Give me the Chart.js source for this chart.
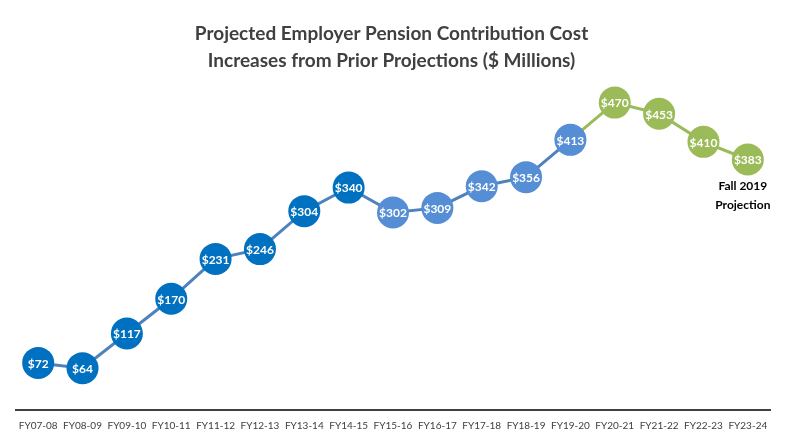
<!DOCTYPE html>
<html>
<head>
<meta charset="utf-8">
<script src="https://cdn.jsdelivr.net/npm/chart.js@4"></script>
<style>
  html, body { margin: 0; padding: 0; background: #fff; }
  #wrap { width: 805px; height: 446px; }
</style>
</head>
<body>
<div id="wrap"><canvas id="myChart"></canvas></div>
<script>
'use strict';

let years = ['FY07-08', 'FY08-09', 'FY09-10', 'FY10-11', 'FY11-12', 'FY12-13', 'FY13-14', 'FY14-15',
  'FY15-16', 'FY16-17', 'FY17-18', 'FY18-19', 'FY19-20', 'FY20-21', 'FY21-22', 'FY22-23', 'FY23-24'];
let costs = [72, 64, 117, 170, 231, 246, 304, 340, 302, 309, 342, 356, 413, 470, 453, 410, 383];
// which projection group each point belongs to: 0 = actual, 1 = near term, 2 = later projection
let groups = [0, 0, 0, 0, 0, 0, 0, 0, 1, 1, 1, 1, 1, 2, 2, 2, 2];

let groupColors = ['#0070c0', '#558ed5', '#9bbb59'];
let lineBlue = '#4f81bd';
let lineGreen = '#9bbb59';

let pointColors = [];
for (let i = 0; i < groups.length; i++) {
  pointColors.push(groupColors[groups[i]]);
}

let fontName = 'Lato, "Open Sans", sans-serif';

// draws the $ value inside each circle plus the note under the last point
let valueLabels = {
  id: 'valueLabels',
  afterDatasetsDraw(chart) {
    let ctx = chart.ctx;
    let meta = chart.getDatasetMeta(0);
    ctx.save();
    ctx.textAlign = 'center';
    ctx.textBaseline = 'middle';
    ctx.fillStyle = '#ffffff';
    ctx.font = 'bold 12px ' + fontName;
    for (let i = 0; i < meta.data.length; i++) {
      let pt = meta.data[i];
      ctx.fillText('$' + costs[i], pt.x, pt.y + 1);
    }
    let last = meta.data[meta.data.length - 1];
    ctx.fillStyle = '#000000';
    ctx.font = 'bold 12px ' + fontName;
    ctx.fillText('Fall 2019', last.x - 5, last.y + 27);
    ctx.fillText('Projection', last.x - 5, last.y + 46);
    ctx.restore();
  }
};

let ctx = document.getElementById('myChart').getContext('2d');
let chart = new Chart(ctx, {
  type: 'line',
  data: {
    labels: years,
    datasets: [{
      data: costs,
      borderWidth: 3,
      borderColor: lineBlue,
      segment: {
        borderColor: c => groups[c.p1DataIndex] === 2 ? lineGreen : lineBlue
      },
      pointRadius: 16,
      pointHoverRadius: 16,
      pointBorderWidth: 0,
      pointBackgroundColor: pointColors,
      pointBorderColor: pointColors,
      tension: 0,
      clip: false
    }]
  },
  options: {
    responsive: true,
    maintainAspectRatio: false,
    animation: false,
    layout: { padding: { left: 13, right: 35, top: 0, bottom: 4 } },
    plugins: {
      legend: { display: false },
      tooltip: { enabled: false },
      title: {
        display: true,
        text: ['Projected Employer Pension Contribution Cost', 'Increases from Prior Projections ($ Millions)'],
        color: '#404040',
        font: { family: fontName, size: 19, weight: 'bold', lineHeight: 1.42 },
        padding: { top: 20, bottom: 9 }
      }
    },
    scales: {
      x: {
        offset: true,
        grid: { display: false, drawTicks: false },
        border: { display: true, color: '#404040', width: 2 },
        ticks: {
          color: '#404040',
          font: { family: fontName, size: 10 },
          padding: 10,
          autoSkip: false,
          maxRotation: 0
        }
      },
      y: {
        display: false,
        min: 0,
        max: 500
      }
    }
  },
  plugins: [valueLabels]
});
</script>
</body>
</html>
